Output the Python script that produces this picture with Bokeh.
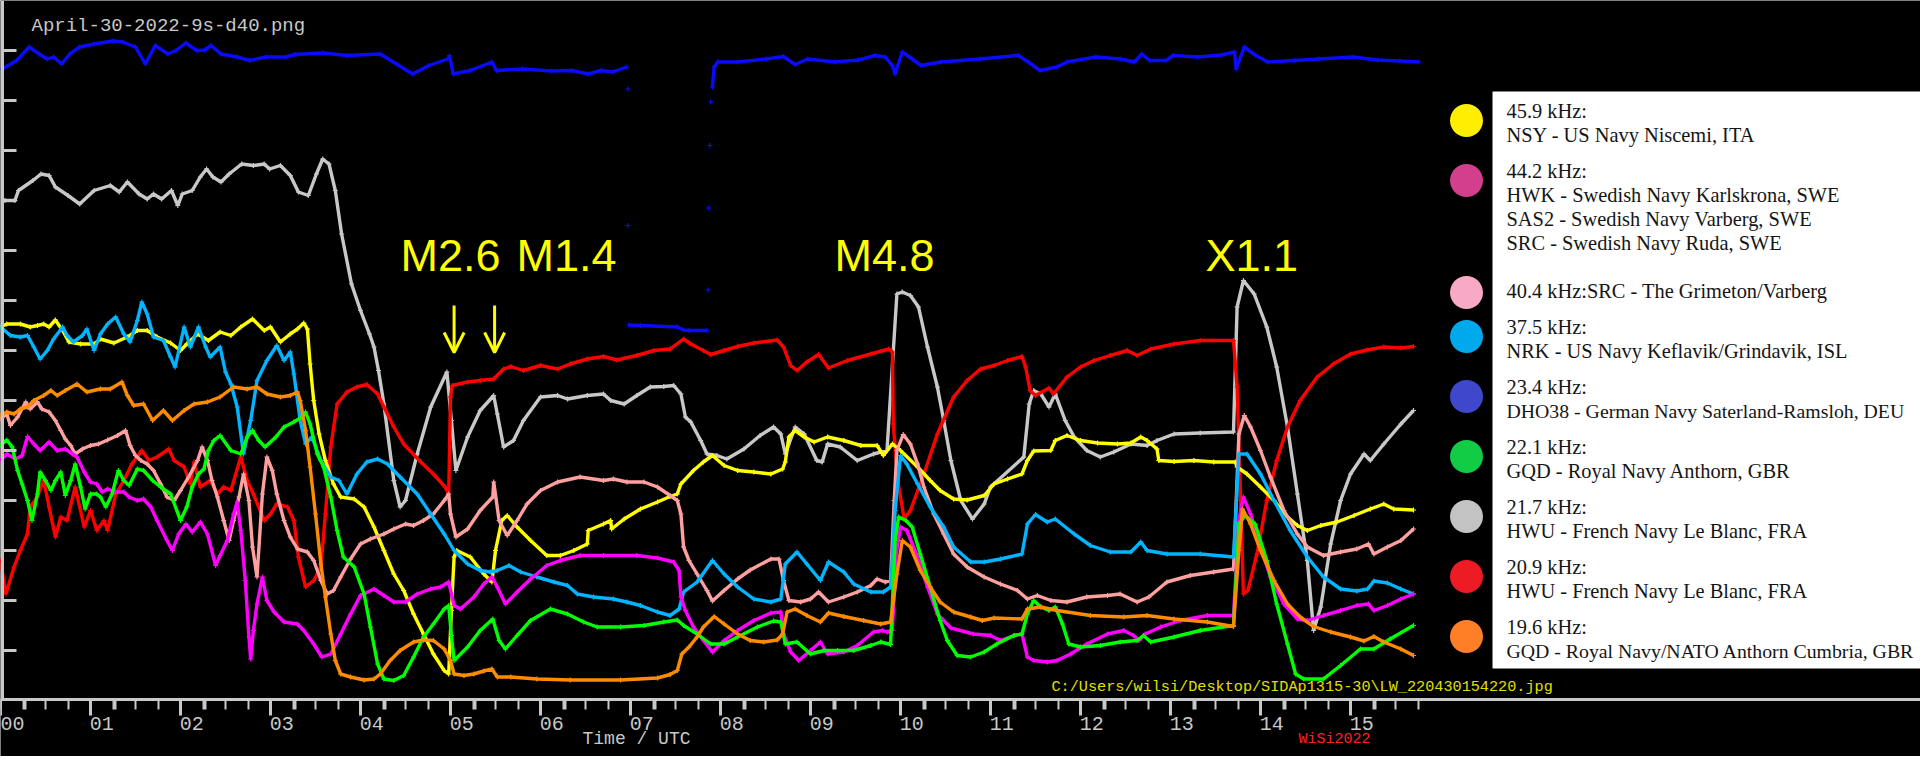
from bokeh.plotting import figure
from bokeh.models import Range1d, FixedTicker, LinearAxis, Arrow, OpenHead
from bokeh.core.properties import value
from bokeh.embed import file_html
from bokeh.resources import INLINE

NaN = float("nan")

# ---------------- data: (hour UTC, signal level in axis-tick units) ----------------
blue_pts = [(0.02,12.63),(0.18,12.8),(0.32,13.07),(0.43,12.93),(0.52,12.83),(0.59,12.87),(0.68,12.73),
 (0.77,12.93),(0.88,13.07),(1.04,13.13),(1.25,13.19),(1.36,13.17),(1.50,13.07),(1.61,12.73),(1.72,13.1),
 (1.86,12.93),(1.95,13.0),(2.06,13.15),(2.18,13.0),(2.27,13.01),(2.34,13.1),(2.45,12.93),(2.63,12.87),
 (2.77,12.8),(2.95,12.87),(3.17,12.87),(3.27,12.92),(3.58,12.95),(3.85,12.9),(4.22,12.93),(4.40,12.73),
 (4.58,12.53),(4.76,12.7),(4.97,12.83),(4.99,12.9),(5.03,12.53),(5.22,12.6),(5.46,12.77),(5.51,12.6),
 (5.80,12.63),(6.12,12.59),(6.35,12.6),(6.53,12.53),(6.67,12.6),(6.80,12.57),(6.96,12.67),(NaN,NaN),
 (6.97,12.23),(NaN,NaN),(6.97,9.5),(NaN,NaN),
 (6.98,7.51),(7.11,7.5),(7.52,7.47),(7.59,7.41),(7.65,7.4),(7.85,7.4),(NaN,NaN),(7.86,8.21),(NaN,NaN),
 (7.87,9.85),(NaN,NaN),(7.88,11.1),(NaN,NaN),(7.89,11.97),(NaN,NaN),(7.91,12.27),(7.93,12.67),(7.97,12.77),
 (8.19,12.77),(8.51,12.83),(8.70,12.88),(8.83,12.72),(8.97,12.83),(9.27,12.77),(9.53,12.81),(9.72,12.9),
 (9.83,12.87),(9.91,12.7),(9.94,12.53),(10.02,12.97),(10.13,12.83),(10.23,12.7),(10.45,12.77),(10.88,12.83),
 (11.31,12.9),(11.42,12.77),(11.55,12.6),(11.74,12.67),(11.85,12.77),(12.17,12.87),(12.44,12.83),
 (12.60,12.77),(12.68,12.93),(12.77,12.8),(12.95,12.8),(13.03,12.9),(13.30,12.87),(13.57,12.91),
 (13.71,12.97),(13.73,12.63),(13.82,13.07),(13.95,12.9),(14.08,12.77),(14.38,12.8),(14.65,12.83),
 (15.03,12.87),(15.30,12.81),(15.55,12.79),(15.76,12.77)]

gray_pts = [(0.05,10.0),(0.16,10.0),(0.20,10.2),(0.36,10.4),(0.45,10.53),(0.54,10.5),(0.61,10.27),(0.75,10.1),
 (0.88,9.93),(1.04,10.2),(1.22,10.3),(1.32,10.17),(1.41,10.37),(1.54,10.13),(1.63,10.03),(1.70,10.13),
 (1.79,10.03),(1.90,10.2),(1.97,9.9),(2.02,10.13),(2.13,10.2),(2.22,10.47),(2.29,10.63),(2.36,10.47),
 (2.45,10.37),(2.54,10.53),(2.68,10.73),(2.81,10.7),(2.93,10.73),(2.99,10.63),(3.11,10.7),(3.22,10.5),
 (3.31,10.17),(3.42,10.1),(3.51,10.53),(3.58,10.83),(3.65,10.73),(3.72,10.2),(3.79,9.33),(3.90,8.33),
 (4.00,7.8),(4.10,7.33),(4.15,7.07),(4.20,6.6),(4.26,5.93),(4.37,4.4),(4.44,3.87),(4.50,4.0),(4.63,4.93),
 (4.78,5.87),(4.96,6.57),(5.01,5.6),(5.06,4.6),(5.19,5.27),(5.33,5.8),(5.48,6.1),(5.52,5.73),(5.59,5.07),
 (5.70,5.2),(5.81,5.6),(6.00,6.07),(6.19,6.1),(6.30,6.03),(6.52,6.1),(6.70,6.13),(6.78,6.0),(6.93,5.93),
 (7.07,6.1),(7.22,6.27),(7.37,6.28),(7.48,6.3),(7.56,6.13),(7.61,5.67),(7.67,5.57),(7.78,5.2),(7.85,4.93),
 (7.96,4.9),(8.07,4.83),(8.26,5.03),(8.44,5.3),(8.59,5.47),(8.67,5.33),(8.72,4.93),(8.83,5.47),(8.93,5.33),
 (9.07,4.8),(9.13,4.77),(9.19,5.13),(9.33,5.07),(9.52,4.8),(9.70,4.93),(9.85,5.0),(9.96,8.13),(10.02,8.17),
 (10.11,8.1),(10.20,7.87),(10.30,7.07),(10.41,6.27),(10.48,5.6),(10.56,4.8),(10.67,4.0),(10.80,3.63),
 (10.93,3.93),(11.00,4.27),(11.37,4.87),(11.43,5.93),(11.48,6.2),(11.56,6.13),(11.65,5.87),(11.72,6.13),
 (11.83,5.6),(11.93,5.27),(12.07,5.0),(12.22,4.87),(12.37,4.97),(12.56,5.13),(12.74,5.1),(12.85,5.2),
 (13.04,5.33),(13.33,5.35),(13.70,5.37),(13.74,7.87),(13.81,8.4),(13.93,8.13),(14.07,7.47),(14.18,6.67),
 (14.30,5.47),(14.41,4.13),(14.52,2.8),(14.59,1.4),(14.67,1.87),(14.78,3.13),(14.89,4.0),(15.00,4.53),
 (15.15,4.93),(15.22,4.8),(15.37,5.13),(15.56,5.53),(15.70,5.8)]

red_pts = [(0.00,2.8),(0.06,2.13),(0.15,2.67),(0.22,3.0),(0.30,3.33),(0.33,3.87),(0.41,4.07),(0.48,4.4),
 (0.54,3.87),(0.61,3.27),(0.67,3.67),(0.74,3.6),(0.83,4.27),(0.93,3.47),(1.00,3.8),(1.07,3.4),(1.15,3.6),
 (1.19,3.4),(1.28,4.13),(1.37,4.4),(1.46,4.73),(1.57,5.0),(1.65,4.8),(1.74,4.87),(1.87,5.03),(1.93,4.8),
 (2.04,4.67),(2.11,4.33),(2.15,4.77),(2.22,4.27),(2.33,4.4),(2.41,4.13),(2.48,4.27),(2.56,4.2),(2.67,4.87),
 (2.74,4.4),(2.81,4.13),(2.93,3.6),(3.00,3.73),(3.07,3.93),(3.19,3.87),(3.26,3.6),(3.31,2.87),(3.39,2.27),
 (3.48,2.4),(3.56,2.67),(3.61,3.73),(3.67,5.07),(3.74,5.93),(3.85,6.17),(3.96,6.27),(4.07,6.32),(4.19,6.13),
 (4.26,5.87),(4.37,5.47),(4.48,5.13),(4.67,4.77),(4.81,4.53),(4.94,4.27),(4.98,4.13),(5.00,6.07),(5.02,6.3),
 (5.19,6.37),(5.33,6.4),(5.48,6.43),(5.59,6.63),(5.67,6.68),(5.81,6.6),(6.00,6.7),(6.19,6.63),(6.33,6.73),
 (6.52,6.83),(6.70,6.88),(6.85,6.81),(7.07,6.9),(7.26,7.0),(7.44,7.03),(7.59,7.23),(7.67,7.13),(7.81,7.0),
 (7.89,6.92),(8.04,7.0),(8.19,7.08),(8.37,7.15),(8.63,7.21),(8.70,7.07),(8.78,6.7),(8.85,6.6),(8.96,6.77),
 (9.09,6.92),(9.20,6.65),(9.41,6.8),(9.67,6.93),(9.87,7.03),(9.91,6.97),(9.92,5.53),(9.97,4.4),(10.04,3.63),
 (10.11,3.8),(10.26,4.53),(10.41,5.33),(10.59,6.07),(10.74,6.4),(10.89,6.63),(11.04,6.7),(11.19,6.8),
 (11.35,6.88),(11.39,6.67),(11.44,6.2),(11.50,6.1),(11.65,6.25),(11.70,6.13),(11.85,6.47),(12.00,6.67),
 (12.15,6.8),(12.33,6.9),(12.52,7.0),(12.63,6.9),(12.78,7.03),(13.04,7.13),(13.33,7.2),(13.70,7.2),
 (13.74,6.27),(13.78,4.0),(13.81,2.13),(13.86,2.2),(13.96,2.93),(14.07,4.0),(14.18,4.8),(14.30,5.47),
 (14.44,6.0),(14.63,6.47),(14.81,6.73),(15.00,6.93),(15.18,7.01),(15.37,7.07),(15.56,7.05),(15.70,7.08)]

yellow_pts = [(0.00,7.47),(0.07,7.53),(0.22,7.53),(0.33,7.47),(0.41,7.5),(0.48,7.53),(0.54,7.47),(0.61,7.61),
 (0.69,7.4),(0.76,7.17),(0.89,7.13),(1.04,7.13),(1.11,7.23),(1.26,7.15),(1.41,7.27),(1.52,7.4),(1.63,7.4),
 (1.74,7.27),(1.89,7.15),(2.00,7.0),(2.07,7.13),(2.19,7.33),(2.31,7.2),(2.44,7.37),(2.56,7.3),(2.67,7.47),
 (2.80,7.63),(2.93,7.4),(3.00,7.47),(3.11,7.17),(3.22,7.33),(3.30,7.43),(3.37,7.55),(3.41,7.43),(3.44,6.73),
 (3.48,6.0),(3.54,5.33),(3.61,4.8),(3.70,4.33),(3.78,4.07),(3.93,4.03),(4.04,3.87),(4.15,3.47),(4.26,3.0),
 (4.37,2.53),(4.48,2.2),(4.59,1.73),(4.70,1.33),(4.81,0.93),(4.93,0.6),(4.98,0.53),(5.01,1.8),(5.04,2.87),
 (5.07,3.0),(5.22,2.87),(5.37,2.53),(5.46,2.37),(5.50,3.0),(5.57,3.6),(5.63,3.7),(5.74,3.47),(5.89,3.2),
 (6.07,2.9),(6.22,2.9),(6.37,3.0),(6.52,3.13),(6.53,3.4),(6.70,3.53),(6.78,3.6),(6.79,3.43),(6.93,3.63),
 (7.11,3.83),(7.30,3.97),(7.44,4.08),(7.52,4.13),(7.56,4.33),(7.70,4.6),(7.81,4.77),(7.91,4.9),(8.04,4.7),
 (8.19,4.6),(8.37,4.57),(8.56,4.53),(8.69,4.63),(8.72,4.77),(8.76,5.27),(8.83,5.4),(8.93,5.27),(9.04,5.17),
 (9.19,5.27),(9.37,5.2),(9.56,5.1),(9.74,5.1),(9.81,4.9),(9.91,5.13),(10.00,5.0),(10.19,4.67),(10.33,4.4),
 (10.44,4.2),(10.59,4.03),(10.74,4.01),(10.93,4.1),(11.04,4.33),(11.19,4.43),(11.35,4.53),(11.41,4.8),
 (11.48,4.99),(11.67,5.0),(11.72,5.2),(11.85,5.3),(12.00,5.2),(12.19,5.15),(12.41,5.13),(12.56,5.15),
 (12.67,5.27),(12.74,5.2),(12.85,5.03),(12.87,4.8),(13.04,4.78),(13.26,4.8),(13.48,4.77),(13.72,4.77),
 (13.74,4.67),(13.85,4.53),(14.00,4.27),(14.15,4.0),(14.30,3.67),(14.41,3.5),(14.52,3.4),(14.67,3.5),
 (14.85,3.57),(15.04,3.7),(15.22,3.83),(15.37,3.93),(15.48,3.83),(15.70,3.81)]

pink_pts = [(0.00,5.63),(0.07,5.73),(0.11,5.5),(0.19,5.67),(0.28,5.97),(0.33,5.83),(0.41,5.97),(0.46,5.83),
 (0.54,5.77),(0.61,5.6),(0.67,5.4),(0.72,5.23),(0.78,5.1),(0.83,4.93),(0.91,5.03),(1.00,5.1),(1.09,5.13),
 (1.19,5.21),(1.30,5.3),(1.39,5.4),(1.44,5.1),(1.50,4.9),(1.56,4.8),(1.63,4.73),(1.70,4.6),(1.78,4.33),
 (1.85,4.07),(1.93,4.0),(2.00,4.2),(2.09,4.47),(2.19,4.8),(2.24,5.07),(2.30,4.8),(2.35,4.4),(2.41,4.07),
 (2.48,3.6),(2.54,3.2),(2.59,3.6),(2.65,4.07),(2.70,4.53),(2.76,4.0),(2.80,3.07),(2.85,2.47),(2.91,4.13),
 (2.96,4.87),(3.02,4.6),(3.07,4.13),(3.15,3.6),(3.22,3.27),(3.30,3.03),(3.41,2.97),(3.48,2.8),(3.56,2.4),
 (3.63,2.13),(3.70,2.2),(3.78,2.47),(3.89,2.83),(4.00,3.13),(4.11,3.23),(4.26,3.33),(4.37,3.43),(4.50,3.53),
 (4.59,3.5),(4.70,3.6),(4.81,3.73),(4.93,4.0),(4.98,4.13),(5.00,3.73),(5.06,3.27),(5.19,3.43),(5.33,3.8),
 (5.47,4.07),(5.48,4.37),(5.54,3.6),(5.63,3.3),(5.74,3.6),(5.85,3.93),(6.00,4.2),(6.19,4.37),(6.44,4.47),
 (6.70,4.4),(6.81,4.43),(6.96,4.37),(7.15,4.37),(7.30,4.27),(7.44,4.1),(7.52,4.0),(7.56,3.73),(7.59,3.07),
 (7.65,2.8),(7.74,2.53),(7.85,2.2),(7.91,1.99),(8.04,2.2),(8.19,2.43),(8.33,2.61),(8.56,2.83),(8.65,2.83),
 (8.70,2.4),(8.76,2.0),(8.89,1.97),(9.00,2.03),(9.09,2.17),(9.20,1.97),(9.37,2.07),(9.52,2.17),(9.67,2.3),
 (9.74,2.43),(9.83,2.37),(9.89,2.4),(9.93,4.0),(9.96,5.0),(10.03,5.32),(10.11,5.13),(10.19,4.73),
 (10.26,4.27),(10.37,3.73),(10.48,3.33),(10.59,2.93),(10.74,2.67),(10.93,2.47),(11.11,2.33),(11.30,2.2),
 (11.41,2.03),(11.52,2.1),(11.67,2.0),(11.85,1.97),(12.07,2.07),(12.30,2.1),(12.44,2.13),(12.63,1.97),
 (12.76,2.07),(12.96,2.37),(13.22,2.5),(13.48,2.57),(13.70,2.63),(13.76,5.33),(13.82,5.7),(13.89,5.47),
 (14.00,5.0),(14.11,4.47),(14.26,3.8),(14.41,3.33),(14.52,3.07),(14.70,2.9),(14.89,2.97),(15.07,3.03),
 (15.20,3.13),(15.26,2.93),(15.41,3.07),(15.56,3.2),(15.70,3.43)]

cyan_pts = [(0.00,7.47),(0.11,7.3),(0.22,7.27),(0.30,7.3),(0.37,7.07),(0.44,6.83),(0.52,7.0),(0.59,7.23),
 (0.69,7.47),(0.74,7.3),(0.81,7.17),(0.91,7.3),(0.96,7.43),(1.04,7.0),(1.11,7.33),(1.19,7.53),(1.28,7.67),
 (1.37,7.33),(1.44,7.17),(1.52,7.6),(1.57,7.97),(1.63,7.73),(1.70,7.27),(1.81,7.2),(1.89,6.87),(1.94,6.67),
 (2.04,7.47),(2.11,7.07),(2.20,7.47),(2.28,7.07),(2.33,6.87),(2.44,7.07),(2.50,6.57),(2.56,6.33),(2.63,5.87),
 (2.70,4.93),(2.78,5.6),(2.85,6.4),(2.96,6.8),(3.07,7.1),(3.15,6.8),(3.22,6.97),(3.26,6.53),(3.33,5.6),
 (3.39,5.13),(3.46,5.27),(3.56,4.8),(3.67,4.47),(3.76,4.4),(3.85,4.13),(3.96,4.53),(4.07,4.77),(4.19,4.83),
 (4.30,4.73),(4.44,4.47),(4.63,4.13),(4.78,3.73),(4.93,3.33),(5.04,3.0),(5.19,2.73),(5.33,2.6),(5.44,2.57),
 (5.52,2.6),(5.65,2.7),(5.78,2.57),(5.96,2.47),(6.15,2.37),(6.30,2.3),(6.41,2.13),(6.59,2.07),(6.81,2.03),
 (6.96,1.97),(7.11,1.9),(7.30,1.77),(7.44,1.7),(7.54,1.83),(7.59,2.17),(7.74,2.37),(7.91,2.8),(8.04,2.53),
 (8.19,2.27),(8.37,2.03),(8.56,1.97),(8.67,2.03),(8.72,2.73),(8.85,2.97),(8.96,2.73),(9.11,2.4),(9.20,2.77),
 (9.37,2.57),(9.48,2.33),(9.67,2.17),(9.81,2.17),(9.89,2.27),(9.94,3.8),(10.00,4.9),(10.07,4.73),
 (10.19,4.33),(10.33,3.87),(10.48,3.47),(10.59,3.07),(10.78,2.77),(10.93,2.77),(11.11,2.83),(11.35,2.93),
 (11.41,3.53),(11.50,3.72),(11.63,3.57),(11.72,3.63),(11.93,3.33),(12.11,3.1),(12.33,2.97),(12.56,2.97),
 (12.67,3.17),(12.74,3.0),(12.96,2.93),(13.33,2.93),(13.70,2.87),(13.76,4.93),(13.85,4.93),(14.00,4.53),
 (14.15,4.0),(14.33,3.4),(14.52,2.87),(14.70,2.47),(14.89,2.23),(15.07,2.19),(15.19,2.23),(15.26,2.39),
 (15.41,2.35),(15.56,2.23),(15.70,2.13)]

magenta_pts = [(0.00,4.8),(0.07,4.93),(0.17,4.83),(0.24,4.9),(0.30,5.28),(0.37,5.13),(0.44,5.0),(0.54,5.17),
 (0.63,5.0),(0.72,5.03),(0.80,4.93),(0.85,4.87),(0.93,4.57),(1.00,4.37),(1.07,4.33),(1.13,4.17),(1.19,4.23),
 (1.28,4.17),(1.37,4.17),(1.43,4.07),(1.52,4.0),(1.59,4.03),(1.67,3.87),(1.74,3.6),(1.85,3.2),(1.91,3.0),
 (1.98,3.33),(2.06,3.53),(2.13,3.37),(2.22,3.57),(2.30,3.33),(2.39,2.7),(2.44,2.9),(2.52,3.2),(2.59,3.73),
 (2.63,3.97),(2.67,3.4),(2.72,2.4),(2.76,1.27),(2.78,0.83),(2.81,1.4),(2.85,1.93),(2.91,2.47),(2.96,2.0),
 (3.04,1.77),(3.15,1.57),(3.30,1.53),(3.37,1.4),(3.48,1.13),(3.57,0.87),(3.67,0.93),(3.78,1.33),(3.89,1.73),
 (4.00,2.1),(4.15,2.23),(4.26,2.1),(4.37,1.97),(4.50,1.97),(4.63,2.13),(4.78,2.23),(4.89,2.27),(4.98,2.37),
 (5.04,1.9),(5.11,1.83),(5.26,2.07),(5.37,2.33),(5.46,2.47),(5.52,2.27),(5.61,1.93),(5.74,2.17),(5.89,2.43),
 (6.07,2.7),(6.22,2.8),(6.44,2.9),(6.70,2.9),(7.07,2.9),(7.30,2.85),(7.48,2.77),(7.54,2.6),(7.56,2.07),
 (7.61,1.8),(7.70,1.47),(7.81,1.2),(7.91,0.97),(8.04,1.2),(8.19,1.4),(8.37,1.6),(8.56,1.75),(8.67,1.77),
 (8.70,1.33),(8.78,0.97),(8.87,0.8),(9.00,1.0),(9.11,1.17),(9.19,0.93),(9.37,0.97),(9.52,1.1),(9.70,1.37),
 (9.80,1.4),(9.85,1.37),(9.91,1.4),(9.95,2.9),(10.00,3.47),(10.07,3.4),(10.19,2.87),(10.30,2.27),
 (10.41,1.73),(10.56,1.45),(10.81,1.33),(11.00,1.3),(11.11,1.2),(11.26,1.3),(11.35,1.33),(11.41,0.87),
 (11.48,0.8),(11.63,0.77),(11.74,0.8),(11.89,0.93),(12.07,1.13),(12.30,1.33),(12.48,1.4),(12.59,1.3),
 (12.65,1.2),(12.72,1.33),(12.89,1.47),(13.11,1.6),(13.41,1.7),(13.70,1.7),(13.76,3.6),(13.81,4.07),
 (13.89,3.73),(14.00,3.07),(14.11,2.47),(14.26,1.93),(14.41,1.63),(14.52,1.6),(14.70,1.7),(14.89,1.8),
 (15.07,1.9),(15.20,1.93),(15.26,1.8),(15.41,1.9),(15.56,2.03),(15.70,2.13)]

green_pts = [(0.00,5.1),(0.07,5.21),(0.13,5.07),(0.19,4.6),(0.24,4.33),(0.30,4.0),(0.35,3.6),(0.41,4.13),
 (0.44,4.57),(0.50,4.4),(0.56,4.2),(0.61,4.4),(0.67,4.57),(0.72,4.1),(0.78,4.4),(0.83,4.73),(0.89,4.27),
 (0.94,3.83),(1.00,4.13),(1.07,4.13),(1.11,4.07),(1.17,3.87),(1.24,4.13),(1.31,4.6),(1.37,4.4),(1.43,4.3),
 (1.52,4.63),(1.59,4.6),(1.69,4.4),(1.78,4.27),(1.89,4.13),(2.00,3.6),(2.07,3.87),(2.13,4.27),(2.20,4.53),
 (2.26,4.63),(2.31,5.0),(2.37,5.2),(2.44,5.3),(2.56,5.0),(2.67,4.93),(2.74,5.27),(2.80,5.4),(2.87,5.2),
 (2.94,5.07),(3.06,5.27),(3.15,5.47),(3.26,5.57),(3.35,5.67),(3.39,5.77),(3.44,5.53),(3.52,4.93),(3.59,4.67),
 (3.67,4.07),(3.74,3.4),(3.81,2.87),(3.93,2.67),(4.04,2.13),(4.11,1.47),(4.19,0.73),(4.26,0.43),(4.37,0.4),
 (4.48,0.5),(4.59,0.87),(4.70,1.27),(4.81,1.53),(4.93,1.83),(4.98,1.9),(5.01,1.3),(5.04,0.8),(5.19,1.07),
 (5.33,1.4),(5.47,1.63),(5.54,1.2),(5.61,1.03),(5.74,1.3),(5.89,1.6),(6.11,1.83),(6.30,1.73),(6.48,1.57),
 (6.63,1.47),(6.89,1.47),(7.15,1.5),(7.37,1.57),(7.52,1.61),(7.59,1.5),(7.74,1.33),(7.89,1.13),(8.04,1.13),
 (8.19,1.27),(8.41,1.47),(8.59,1.59),(8.67,1.57),(8.72,1.13),(8.85,1.17),(9.00,0.93),(9.15,1.0),(9.30,1.0),
 (9.48,1.0),(9.67,1.1),(9.78,1.17),(9.89,1.12),(9.94,3.2),(9.98,3.67),(10.06,3.6),(10.13,3.47),(10.22,2.93),
 (10.33,2.27),(10.44,1.6),(10.52,1.2),(10.63,0.9),(10.78,0.87),(10.93,0.97),(11.07,1.13),(11.26,1.3),
 (11.35,1.33),(11.41,1.73),(11.48,2.0),(11.56,1.87),(11.65,1.8),(11.72,1.87),(11.80,1.53),(11.87,1.13),
 (12.00,1.07),(12.22,1.1),(12.44,1.17),(12.63,1.2),(12.70,1.3),(12.78,1.17),(13.04,1.27),(13.33,1.4),
 (13.70,1.5),(13.76,3.53),(13.83,3.7),(13.94,3.53),(14.07,2.8),(14.18,1.93),(14.30,1.13),(14.39,0.53),
 (14.48,0.43),(14.70,0.43),(14.89,0.7),(15.11,1.03),(15.26,1.03),(15.44,1.23),(15.70,1.5)]

orange_pts = [(0.00,5.7),(0.07,5.77),(0.15,5.73),(0.22,5.83),(0.30,5.87),(0.37,6.0),(0.48,6.1),(0.56,6.2),
 (0.63,6.1),(0.72,6.2),(0.85,6.33),(0.96,6.17),(1.11,6.23),(1.22,6.23),(1.35,6.37),(1.41,6.1),(1.48,5.9),
 (1.59,5.93),(1.69,5.6),(1.81,5.8),(1.91,5.6),(2.04,5.8),(2.15,5.93),(2.30,5.97),(2.44,6.07),(2.59,6.27),
 (2.74,6.23),(2.85,6.27),(2.96,6.13),(3.11,6.07),(3.22,6.1),(3.30,6.17),(3.33,6.0),(3.39,5.4),(3.44,4.67),
 (3.50,3.73),(3.56,2.73),(3.61,2.07),(3.67,1.33),(3.72,0.8),(3.78,0.53),(3.89,0.47),(4.04,0.41),(4.15,0.43),
 (4.22,0.53),(4.33,0.8),(4.44,1.0),(4.59,1.17),(4.70,1.21),(4.81,1.2),(4.93,1.03),(5.00,0.8),(5.04,0.53),
 (5.15,0.5),(5.26,0.53),(5.37,0.59),(5.46,0.63),(5.52,0.47),(5.67,0.47),(5.96,0.43),(6.33,0.41),(6.89,0.41),
 (7.30,0.45),(7.44,0.52),(7.52,0.6),(7.57,0.93),(7.65,1.07),(7.74,1.27),(7.81,1.47),(7.93,1.68),(8.04,1.53),
 (8.19,1.33),(8.33,1.2),(8.48,1.17),(8.63,1.21),(8.69,1.33),(8.74,1.77),(8.83,1.83),(8.96,1.7),(9.11,1.57),
 (9.20,1.75),(9.37,1.68),(9.59,1.6),(9.78,1.53),(9.89,1.57),(9.96,2.53),(10.02,3.2),(10.11,3.07),
 (10.22,2.6),(10.33,2.27),(10.44,1.97),(10.59,1.77),(10.78,1.67),(10.91,1.6),(11.04,1.65),(11.35,1.63),
 (11.41,1.83),(11.56,1.87),(11.74,1.8),(12.11,1.7),(12.48,1.67),(12.74,1.7),(13.04,1.63),(13.41,1.57),
 (13.70,1.48),(13.76,3.0),(13.80,3.83),(13.89,3.53),(14.00,3.0),(14.15,2.4),(14.30,1.93),(14.44,1.67),
 (14.59,1.48),(14.78,1.37),(15.00,1.27),(15.15,1.19),(15.26,1.28),(15.37,1.17),(15.56,1.03),(15.70,0.9)]

series_pts = [blue_pts, gray_pts, red_pts, yellow_pts, pink_pts, cyan_pts, magenta_pts, green_pts, orange_pts]
series_colors = ["#0a0aff", "#c8c8c8", "#ff0000", "#ffff00", "#ffa0a0", "#00b4ff", "#ff00ff", "#00ff00", "#ff8c00"]

hour_ticks = list(range(16))
hour_labels = ["00", "01", "02", "03", "04", "05", "06", "07", "08", "09", "10", "11", "12", "13", "14", "15"]
quarter_ticks = [q / 4 for q in range(64)] + [h + 0.276 for h in range(16)]
level_ticks = list(range(1, 14))

flare_names = ["M2.6", "M1.4", "M4.8", "X1.1"]
flare_hours = [5.04, 5.49, 9.93, 13.73]
flare_arrow = [True, True, False, False]

legend_colors = ["#ffee00", "#d23f8c", "#f8a9c6", "#00a8ec", "#3f48cc", "#12cc46", "#c3c3c3", "#ed1c24", "#ff7f27"]
legend_lines = [
    ["45.9 kHz:", "NSY - US Navy Niscemi, ITA"],
    ["44.2 kHz:", "HWK - Swedish Navy Karlskrona, SWE", "SAS2 - Swedish Navy Varberg, SWE", "SRC - Swedish Navy Ruda, SWE"],
    ["40.4 kHz:SRC - The Grimeton/Varberg"],
    ["37.5 kHz:", "NRK - US Navy Keflavik/Grindavik, ISL"],
    ["23.4 kHz:", "DHO38 - German Navy Saterland-Ramsloh, DEU"],
    ["22.1 kHz:", "GQD - Royal Navy Anthorn, GBR"],
    ["21.7 kHz:", "HWU - French Navy Le Blanc, FRA"],
    ["20.9 kHz:", "HWU - French Navy Le Blanc, FRA"],
    ["19.6 kHz:", "GQD - Royal Navy/NATO Anthorn Cumbria, GBR"],
]

# ---------------- layout: reference pixel geometry ----------------
W, H = 1920, 756
AXIS = "#c8c8c8"
YEL = "#ffff00"
MONO = "Liberation Mono"


def hx(px):
    return px / 90.0


def vy(py):
    return (700.0 - py) / 50.0


p = figure(width=W, height=H, x_range=Range1d(hx(0), hx(W)), y_range=Range1d(vy(H), vy(0)),
           output_backend="svg", toolbar_location=None, title=None,
           background_fill_color="black", border_fill_color="black", outline_line_color=None,
           min_border_left=0, min_border_right=0, min_border_top=0, min_border_bottom=0)
p.xgrid.visible = False
p.ygrid.visible = False

# bottom axis: line + ticks
xa = p.xaxis[0]
xa.fixed_location = vy(699)
xa.ticker = FixedTicker(ticks=hour_ticks, minor_ticks=quarter_ticks)
xa.axis_line_color = AXIS
xa.axis_line_width = 3
xa.major_tick_line_color = AXIS
xa.major_tick_line_width = 3
xa.major_tick_in = 0
xa.major_tick_out = 16
xa.minor_tick_line_color = AXIS
xa.minor_tick_line_width = 2
xa.minor_tick_in = 0
xa.minor_tick_out = 10
xa.major_label_overrides = {t: "" for t in hour_ticks}
xa.major_label_text_font_size = "1px"
xa.major_label_standoff = 0

# bottom axis labels, placed just right of each hour tick
lab_ticks = [t + 0.125 for t in hour_ticks]
la = LinearAxis(ticker=FixedTicker(ticks=lab_ticks, minor_ticks=[]), fixed_location=vy(715),
                major_label_overrides={t: l for t, l in zip(lab_ticks, hour_labels)},
                axis_line_color=None, major_tick_line_color=None, minor_tick_line_color=None,
                major_tick_in=0, major_tick_out=0, minor_tick_in=0, minor_tick_out=0,
                major_label_standoff=1, major_label_text_color=AXIS,
                major_label_text_font=MONO, major_label_text_font_size="20px")
p.add_layout(la, "below")

# left axis: line + inward ticks
ya = p.yaxis[0]
ya.fixed_location = hx(1.5)
ya.bounds = (vy(699), vy(0))
ya.ticker = FixedTicker(ticks=level_ticks, minor_ticks=[])
ya.axis_line_color = AXIS
ya.axis_line_width = 3
ya.major_tick_line_color = AXIS
ya.major_tick_line_width = 3
ya.major_tick_in = 14
ya.major_tick_out = 0
ya.minor_tick_line_color = None
ya.major_label_overrides = {t: "" for t in level_ticks}
ya.major_label_text_font_size = "1px"
ya.major_label_standoff = 0

# series
for pts, col in zip(series_pts, series_colors):
    xs = [a for a, b in pts]
    ys = [b for a, b in pts]
    p.line(xs, ys, line_color=col, line_width=3.4)
    p.scatter(xs, ys, marker="cross", size=5, line_color=col, line_width=1.2)

# flare annotations
label_px = [400, 516, 834, 1205]
p.text(x=[hx(v) for v in label_px], y=[vy(255)] * len(flare_names), text=flare_names,
       text_font=value("Liberation Sans"), text_font_size="45px", text_color=YEL,
       text_align="left", text_baseline="middle")
for fh, has_arrow in zip(flare_hours, flare_arrow):
    if has_arrow:
        p.add_layout(Arrow(x_start=fh, y_start=vy(305), x_end=fh, y_end=vy(352),
                           line_color=YEL, line_width=3,
                           end=OpenHead(size=20, line_color=YEL, line_width=3)))

# legend panel
p.quad(left=[hx(1492)], right=[hx(1930)], bottom=[vy(668)], top=[vy(91)],
       fill_color="white", line_color=None)
text_x, text_y, text_s, text_fs, dot_y = [], [], [], [], []
line_i = 0
for ei, lines in enumerate(legend_lines):
    first = 110 + 24 * line_i + 12 * ei + (12 if ei >= 2 else 0)
    for k, s in enumerate(lines):
        text_y.append(vy(first + 24 * k))
        text_s.append(s)
        text_x.append(hx(1506))
        text_fs.append("19.8px" if len(s) > 41 else "20.4px")
    dot_y.append(vy(first + (10 if len(lines) > 1 else 2)))
    line_i += len(lines)
p.scatter(x=[hx(1466)] * len(legend_colors), y=dot_y, size=33, marker="circle",
          fill_color=legend_colors, line_color=None)
p.text(x=text_x, y=text_y, text=text_s, text_font=value("Liberation Serif"), text_font_size=text_fs,
       text_color="#151515", text_align="left", text_baseline="middle")

# other texts
p.text(x=[hx(31)], y=[vy(25)], text=["April-30-2022-9s-d40.png"], text_font=value(MONO),
       text_font_size="19px", text_color=AXIS, text_baseline="middle", text_align="left")
p.text(x=[hx(1051)], y=[vy(686)], text=[r"C:/Users/wilsi/Desktop/SIDAp1315-30\LW_220430154220.jpg"],
       text_font=value(MONO), text_font_size="15.2px", text_color="#e0e000",
       text_baseline="middle", text_align="left")
p.text(x=[hx(636)], y=[vy(738)], text=["Time / UTC"], text_font=value(MONO), text_font_size="18px",
       text_color=AXIS, text_baseline="middle", text_align="center")
p.text(x=[hx(1334)], y=[vy(739)], text=["WiSi2022"], text_font=value(MONO), text_font_size="15px",
       text_color="#ff2020", text_baseline="middle", text_align="center")

html = file_html(p, INLINE, title="April-30-2022-9s-d40")
html = html.replace("<body>", '<body style="background-color:#000000;">', 1)
open("out.html", "w").write(html)
